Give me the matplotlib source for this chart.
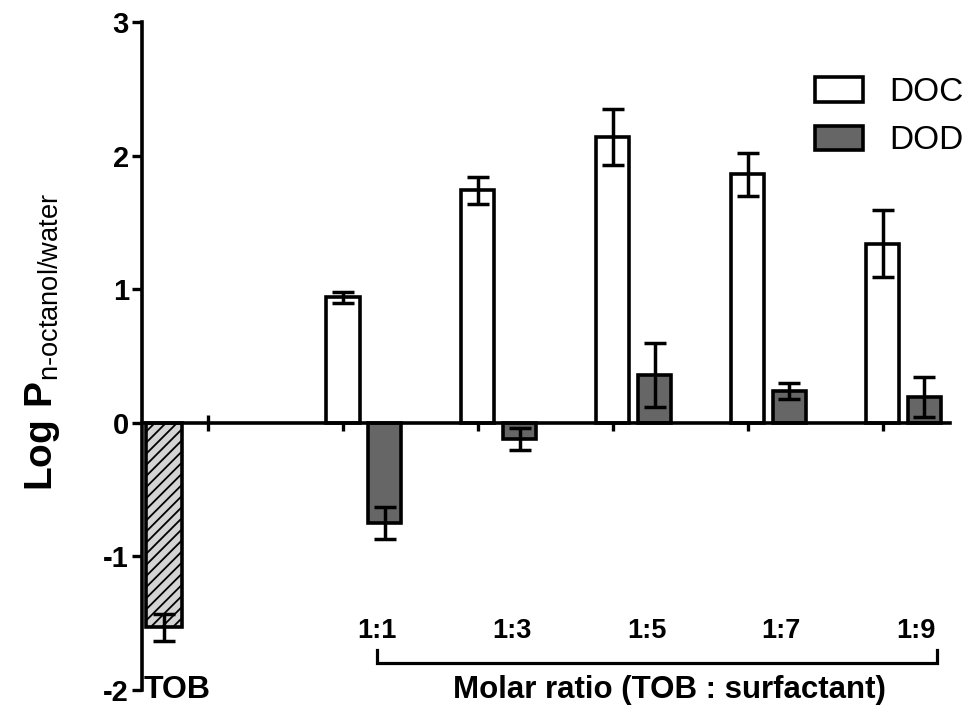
import matplotlib
matplotlib.use('Agg')
import matplotlib.pyplot as plt
import numpy as np

plt.rcParams['font.family'] = ['Liberation Sans', 'DejaVu Sans']
plt.rcParams['mathtext.fontset'] = 'custom'
plt.rcParams['mathtext.rm'] = 'Liberation Sans'
plt.rcParams['mathtext.bf'] = 'Liberation Sans:bold'
plt.rcParams['hatch.linewidth'] = 1.3

# ---- data ----
ratios = ['1:1', '1:3', '1:5', '1:7', '1:9']
doc_vals = [0.94, 1.74, 2.14, 1.86, 1.34]
doc_err = [0.04, 0.10, 0.21, 0.16, 0.25]
dod_vals = [-0.75, -0.12, 0.36, 0.24, 0.19]
dod_err = [0.12, 0.08, 0.24, 0.06, 0.15]
tob_label = 'TOB'
tob_val = [-1.53]
tob_err = [0.10]
yticks = [-2, -1, 0, 1, 2, 3]
series_names = ['DOC', 'DOD']

# ---- layout ----
W, H = 977, 713
fig = plt.figure(figsize=(W / 100, H / 100), dpi=100)
ax = fig.add_axes([142 / W, 1 - 690 / H, (950 - 142) / W, (690 - 22) / H])

g = np.arange(1, len(ratios) + 1)
doc_x = g
dod_x = g + 0.31
tob_x = [-0.327]
bw = 0.245
lw = 2.6

ax.bar(doc_x, doc_vals, width=bw, color='white', edgecolor='black', linewidth=lw,
       label=series_names[0], zorder=2)
ax.bar(dod_x, dod_vals, width=bw, color='#666666', edgecolor='black', linewidth=lw,
       label=series_names[1], zorder=2)
ax.bar(tob_x, tob_val, width=0.26, color='#d4d4d4', edgecolor='black', linewidth=lw,
       hatch='///', zorder=2)

ekw = dict(fmt='none', ecolor='black', elinewidth=2.5, capsize=8, capthick=2.5, zorder=3)
ax.errorbar(doc_x, doc_vals, yerr=doc_err, **ekw)
ax.errorbar(dod_x, dod_vals, yerr=dod_err, **ekw)
ax.errorbar(tob_x, tob_val, yerr=tob_err, **ekw)

ax.set_xlim(-0.49, 5.50)
ax.set_ylim(-2, 3)

for s in ['top', 'right']:
    ax.spines[s].set_visible(False)
ax.spines['bottom'].set_position(('data', 0))
for s in ['left', 'bottom']:
    ax.spines[s].set_linewidth(2.6)
    ax.spines[s].set_zorder(4)

ax.set_yticks(yticks)
ax.set_yticklabels([str(t) for t in yticks], fontsize=21, fontweight='bold')
ax.tick_params(axis='y', direction='out', length=7.5, width=2.4, pad=2)
ax.set_xticks(np.arange(0, 6))
ax.set_xticklabels([])
ax.tick_params(axis='x', direction='inout', length=11.5, width=2.4)

# category labels
for xi, lab in zip(g, ratios):
    ax.text(xi + 0.25, -1.56, lab, ha='center', va='center', fontsize=19.5,
            fontweight='bold', clip_on=False)
ax.text(-0.227, -2.0, tob_label, ha='center', va='center', fontsize=23,
        fontweight='bold', clip_on=False)

# bracket
bx0, bx1 = 1.254, 5.40
yb, yt = -1.80, -1.70
ax.plot([bx0, bx0, bx1, bx1], [yt, yb, yb, yt], color='black', lw=2.3,
        clip_on=False, solid_joinstyle='miter')
ax.text(3.42, -2.0, 'Molar ratio (TOB : surfactant)', ha='center',
        va='center', fontsize=22.5, fontweight='bold', clip_on=False)

fig.text(0.043, 0.52, r'$\mathbf{Log\ P}_{\mathrm{n\text{-}octanol/water}}$',
         rotation=90, ha='center', va='center', fontsize=28)

ax.legend(loc='upper right', bbox_to_anchor=(964 / W, 1 - 77 / H),
          bbox_transform=fig.transFigure, frameon=False, fontsize=24,
          handlelength=1.44, handleheight=0.75, labelspacing=0.52,
          handletextpad=0.8, borderpad=0.0, borderaxespad=0.0)

fig.savefig('out.png', dpi=100)
